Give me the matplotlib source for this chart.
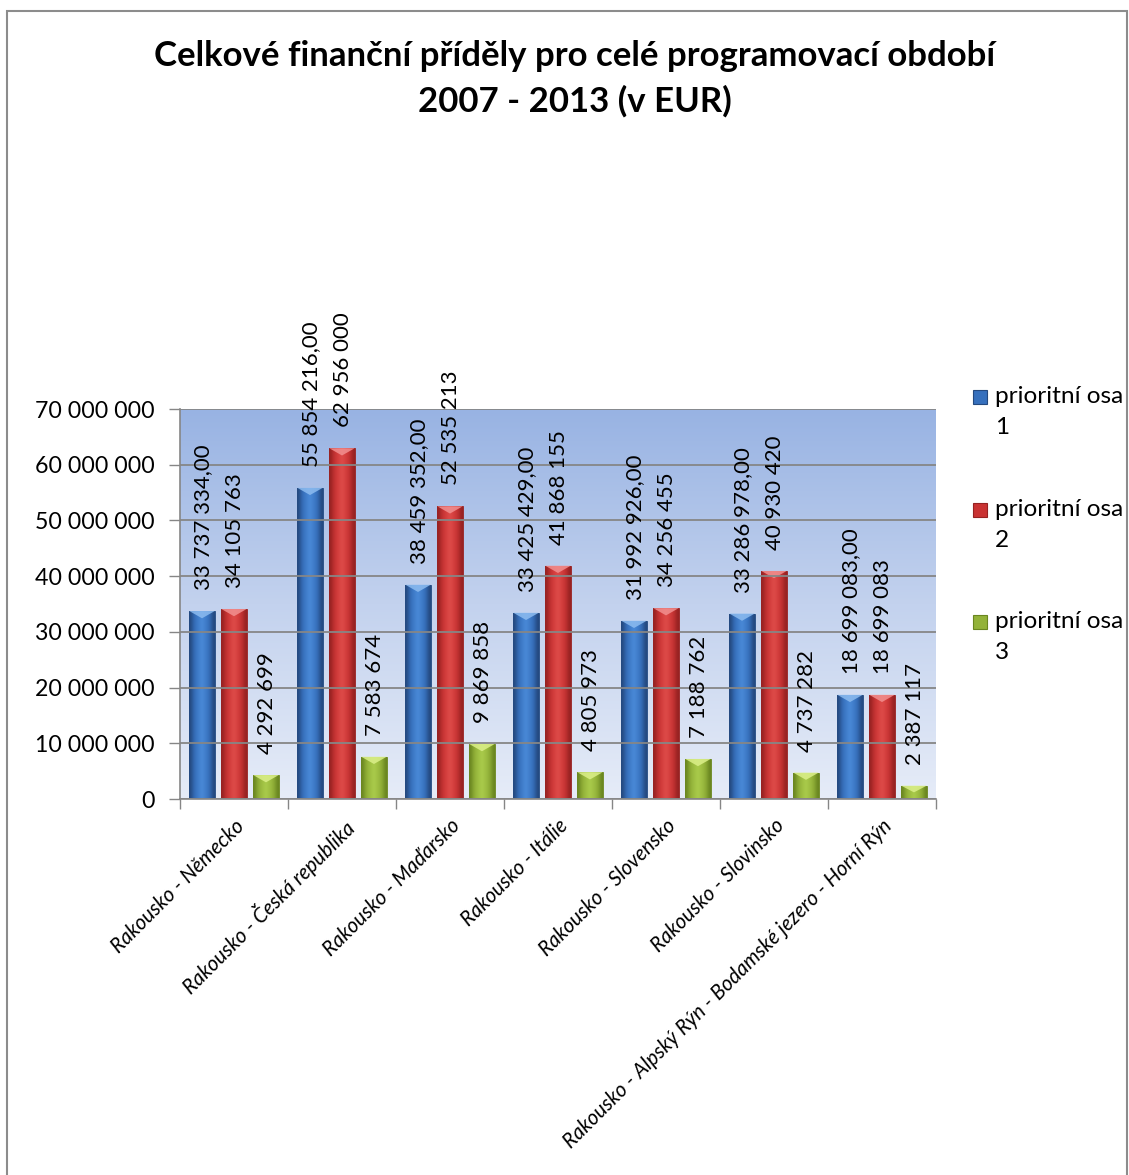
import numpy as np
import matplotlib.pyplot as plt
from matplotlib.colors import LinearSegmentedColormap
from matplotlib.patches import Polygon, Rectangle

plt.rcParams['font.family'] = ['Lato', 'DejaVu Sans']

categories = ["Rakousko - Německo", "Rakousko - Česká republika", "Rakousko - Maďarsko",
              "Rakousko - Itálie", "Rakousko - Slovensko", "Rakousko - Slovinsko",
              "Rakousko - Alpský Rýn - Bodamské jezero - Horní Rýn"]
osa1 = [33737334, 55854216, 38459352, 33425429, 31992926, 33286978, 18699083]
osa2 = [34105763, 62956000, 52535213, 41868155, 34256455, 40930420, 18699083]
osa3 = [4292699, 7583674, 9869858, 4805973, 7188762, 4737282, 2387117]
series_names = ["prioritní osa\n1", "prioritní osa\n2", "prioritní osa\n3"]
yticks = np.arange(0, 70000001, 10000000)


def fmt_int(v):
    return "{:,.0f}".format(v).replace(",", " ")


def fmt_dec(v):
    return fmt_int(v) + ",00"


series = [osa1, osa2, osa3]
formats = [fmt_dec, fmt_int, fmt_int]
# dark edge, middle, light centre, bevel top
palettes = [
    ('#24497f', '#3670bd', '#4a8ad8', '#8dbcf0'),
    ('#962222', '#c93333', '#df4c4a', '#f29090'),
    ('#6a8620', '#93b239', '#abcc4c', '#dcf08a'),
]

fig = plt.figure(figsize=(11.29, 11.75), dpi=100)
ax = fig.add_axes([180 / 1129, 1 - 799 / 1175, 756 / 1129, 390 / 1175])

# plot area background gradient
bg = np.linspace(0, 1, 256).reshape(-1, 1)
bg_cmap = LinearSegmentedColormap.from_list('bg', ['#e6ecf8', '#c3d2ee', '#98b3e3'])
ax.imshow(bg, extent=[0, 1, 0, 1], transform=ax.transAxes, cmap=bg_cmap,
          origin='lower', aspect='auto', zorder=-2)

x = np.arange(len(categories))
width = 0.235
step = 0.296
grad = np.array([[0.0, 0.35, 0.6, 0.8, 1.0, 0.8, 0.6, 0.35, 0.0]])
bevel = 1.3e6

for i, vals in enumerate(series):
    dark, mid, light, top = palettes[i]
    cmap = LinearSegmentedColormap.from_list('c%d' % i, [dark, mid, light])
    bars = ax.bar(x + (i - 1) * step, vals, width, color=mid, edgecolor=dark,
                  linewidth=0.6, zorder=2)
    for b, v in zip(bars, vals):
        x0, w = b.get_x(), b.get_width()
        im = ax.imshow(grad, extent=[x0, x0 + w, 0, v], cmap=cmap, vmin=0, vmax=1,
                       aspect='auto', zorder=2.1, interpolation='bicubic')
        im.set_clip_path(b)
        d = min(bevel, v * 0.5)
        ax.add_patch(Polygon([[x0, v], [x0 + w, v], [x0 + w / 2, v - d]],
                             closed=True, facecolor=top, edgecolor='none',
                             alpha=0.85, zorder=2.2))
        ax.annotate(formats[i](v), (x0 + w / 2, v), xytext=(1, 15),
                    textcoords='offset points', rotation=90, ha='center',
                    va='bottom', fontsize=16, zorder=3)

ax.set_xlim(-0.5, len(categories) - 0.5)
ax.set_ylim(0, 70000000)

ax.set_yticks(yticks)
ax.set_yticklabels([fmt_int(v) for v in yticks], fontsize=16.7)
ax.yaxis.grid(True, color='#868686', linewidth=1.3, zorder=1)
ax.set_axisbelow(False)
for ln in ax.get_ygridlines():
    ln.set_zorder(1)
ax.tick_params(axis='y', length=8, width=1, color='#868686', pad=10)

ax.set_xticks(np.arange(len(categories) + 1) - 0.5)
ax.set_xticklabels([])
ax.set_xticks(x, minor=True)
ax.set_xticklabels(categories, minor=True, fontsize=14.8, style='italic')
ax.tick_params(axis='x', which='major', length=7, width=1, color='#868686')
ax.tick_params(axis='x', which='minor', length=0, pad=12)
plt.setp(ax.get_xticklabels(minor=True), rotation=45, ha='right', va='top',
         rotation_mode='anchor')

for s in ['top', 'right']:
    ax.spines[s].set_visible(False)
for s in ['left', 'bottom']:
    ax.spines[s].set_color('#868686')
    ax.spines[s].set_linewidth(1.2)

# legend
for i, name in enumerate(series_names):
    dark, mid, light, top = palettes[i]
    yc = 1 - (397 + i * 112.5) / 1175
    fig.add_artist(Rectangle((973 / 1129, yc - 7 / 1175), 14 / 1129, 14 / 1175,
                             transform=fig.transFigure, facecolor=mid,
                             edgecolor=dark, linewidth=0.8))
    fig.text(995 / 1129, yc + 11 / 1175, name, ha='left', va='top', fontsize=17.6,
             linespacing=1.6)

fig.text(575 / 1129, 1 - 40 / 1175,
         "Celkové finanční příděly pro celé programovací období\n2007 - 2013 (v EUR)",
         ha='center', va='top', fontsize=25, fontweight='bold', linespacing=1.5)

fig.add_artist(Rectangle((7 / 1129, -0.01), 1120 / 1129, 1 - 11 / 1175 + 0.01,
                         transform=fig.transFigure, fill=False,
                         edgecolor='#8c8c8c', linewidth=1.5))

fig.savefig('out.png', dpi=100)
